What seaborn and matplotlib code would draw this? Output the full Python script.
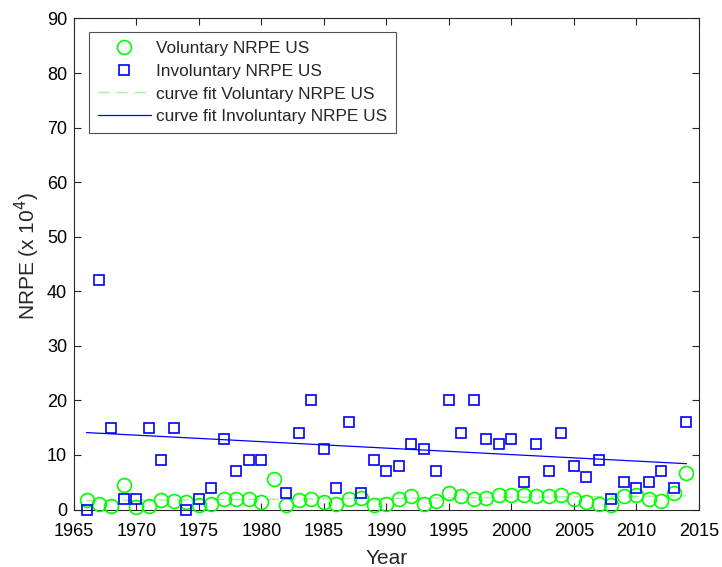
import numpy as np
import pandas as pd
import matplotlib
matplotlib.use("Agg")
import matplotlib.pyplot as plt
import seaborn as sns
from matplotlib.lines import Line2D

# data (NRPE x 10^4)
vol_years = list(range(1966, 2015))
vol_vals = [1.7, 1.1, 0.7, 4.5, 0.5, 0.6, 1.7, 1.5, 1.4, 0.8,
            1.1, 2.0, 1.9, 2.0, 1.4, 5.5, 0.9, 1.7, 1.9, 1.3,
            1.1, 1.9, 2.1, 0.9, 1.0, 2.0, 2.5, 1.1, 1.5, 3.1,
            2.4, 1.9, 2.1, 2.6, 2.7, 2.7, 2.4, 2.5, 2.6, 1.9,
            1.3, 1.1, 0.8, 2.5, 2.7, 1.9, 1.5, 3.1, 6.6]

inv_years = [1966, 1967, 1968, 1969, 1970, 1971, 1972, 1973, 1974, 1975,
             1976, 1977, 1978, 1979, 1980, 1982, 1983, 1984, 1985, 1986,
             1987, 1988, 1989, 1990, 1991, 1992, 1993, 1994, 1995, 1996,
             1997, 1998, 1999, 2000, 2001, 2002, 2003, 2004, 2005, 2006,
             2007, 2008, 2009, 2010, 2011, 2012, 2013, 2014]
inv_vals = [0, 42, 15, 2, 2, 15, 9, 15, 0, 2,
            4, 13, 7, 9, 9, 3, 14, 20, 11, 4,
            16, 3, 9, 7, 8, 12, 11, 7, 20, 14,
            20, 13, 12, 13, 5, 12, 7, 14, 8, 6,
            9, 2, 5, 4, 5, 7, 4, 16]

fit_years = [1966, 2014]
vol_fit = [1.6, 2.5]
inv_fit = [14.1, 8.4]

labels = ["Voluntary NRPE US", "Involuntary NRPE US",
          "curve fit Voluntary NRPE US", "curve fit Involuntary NRPE US"]

GREEN = "#00FF00"
BLUE = "#0000FF"
FIT_GREEN = "#9EF59E"
AX_COLOR = "#262626"

sns.set_theme(style="ticks")
plt.rcParams.update({
    "font.family": ["Liberation Sans", "DejaVu Sans"],
    "axes.edgecolor": AX_COLOR,
    "xtick.color": AX_COLOR,
    "ytick.color": AX_COLOR,
    "axes.linewidth": 0.8,
})

df_vol = pd.DataFrame({"Year": vol_years, "NRPE": vol_vals})
df_inv = pd.DataFrame({"Year": inv_years, "NRPE": inv_vals})
df_fit = pd.DataFrame({"Year": fit_years, "vol": vol_fit, "inv": inv_fit})

fig = plt.figure(figsize=(7.22, 5.67), dpi=100)
ax = fig.add_axes([0.1025, 0.1014, 0.8655, 0.866])

# curve fits
sns.lineplot(data=df_fit, x="Year", y="vol", ax=ax, color=FIT_GREEN,
             linewidth=1.0, dashes=False, linestyle=(0, (8, 5)))
sns.lineplot(data=df_fit, x="Year", y="inv", ax=ax, color=BLUE, linewidth=0.9)

# yearly values
ax.plot(df_vol["Year"], df_vol["NRPE"], linestyle="none", marker="o",
        markersize=10, markerfacecolor="none", markeredgecolor=GREEN,
        markeredgewidth=1.2, clip_on=False, zorder=3)
ax.plot(df_inv["Year"], df_inv["NRPE"], linestyle="none", marker="s",
        markersize=7, markerfacecolor="none", markeredgecolor=BLUE,
        markeredgewidth=1.2, clip_on=False, zorder=4)

ax.set_xlim(1965, 2015)
ax.set_ylim(0, 90)
ax.set_xticks(range(1965, 2016, 5))
ax.set_yticks(range(0, 91, 10))
ax.tick_params(direction="in", top=True, right=True, labelsize=13, length=5, width=0.8,
               labelcolor="black")
ax.tick_params(axis="x", pad=10)
ax.tick_params(axis="y", pad=5)
for s in ax.spines.values():
    s.set_visible(True)
    s.set_color(AX_COLOR)

ax.set_xlabel("Year", fontsize=15, labelpad=6)
ax.set_ylabel("NRPE (x 10$^4$)", fontsize=15)
ax.yaxis.set_label_coords(-0.051, 0.516)

handles = [
    Line2D([], [], linestyle="none", marker="o", markersize=10, markerfacecolor="none",
           markeredgecolor=GREEN, markeredgewidth=1.2),
    Line2D([], [], linestyle="none", marker="s", markersize=7, markerfacecolor="none",
           markeredgecolor=BLUE, markeredgewidth=1.2),
    Line2D([], [], color=FIT_GREEN, linewidth=1.0, linestyle=(0, (8, 5))),
    Line2D([], [], color=BLUE, linewidth=0.9),
]
leg = ax.legend(handles, labels, loc="upper left", bbox_to_anchor=(0.024, 0.972),
                fontsize=12.4, frameon=True, fancybox=False, handlelength=3.1,
                handletextpad=0.3, borderpad=0.5, labelspacing=0.45,
                borderaxespad=0)
leg.get_frame().set_edgecolor(AX_COLOR)
leg.get_frame().set_linewidth(0.8)

fig.savefig("out.png", dpi=100)
